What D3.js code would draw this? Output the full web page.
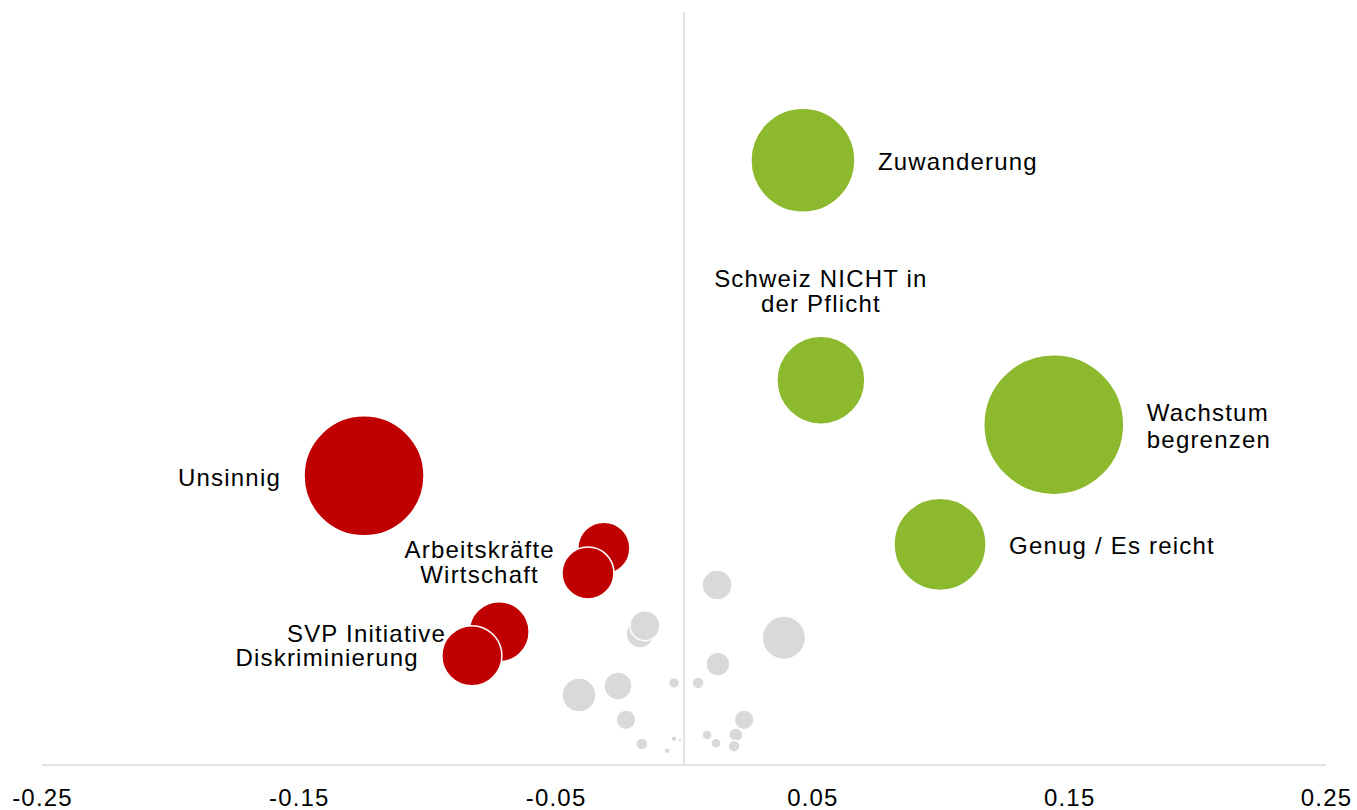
<!DOCTYPE html>
<html>
<head>
<meta charset="utf-8">
<script src="https://cdn.jsdelivr.net/npm/d3@7"></script>
<style>
  body { margin: 0; background: #fff; }
  svg { display: block; font-family: "Liberation Sans", Arial, sans-serif; }
</style>
</head>
<body>
<div id="chart"></div>
<script>
// labelled bubbles
const names  = ["Zuwanderung", "Schweiz NICHT in|der Pflicht", "Wachstum|begrenzen", "Genug / Es reicht",
                "Unsinnig", "Arbeitskräfte", "Wirtschaft", "SVP Initiative", "Diskriminierung"]
const xVals  = [0.0463, 0.0533, 0.1440, 0.0997, -0.1246, -0.0312, -0.0374, -0.0720, -0.0826]
const yVals  = [80.3, 51.1, 45.2, 29.3, 38.4, 28.8, 25.5, 17.7, 14.5]
const sizes  = [55.2, 39.5, 100, 43.2, 73.5, 13.8, 13.8, 18.4, 18.4]
const groups = ["pro", "pro", "pro", "pro", "contra", "contra", "contra", "contra", "contra"]
const sides  = ["right", "top", "right", "right", "left", "left", "left", "left", "left"]

// unlabelled grey bubbles
const greyX    = [0.0129, 0.0389, -0.0171, -0.0152, 0.0132, -0.0409, -0.0257, -0.0039, 0.0055, -0.0226,
                  0.0234, -0.0164, -0.0066, -0.0039, -0.0016, 0.0090, 0.0125, 0.0202, 0.0195]
const greyY    = [23.9, 16.9, 17.4, 18.5, 13.4, 9.3, 10.5, 10.9, 10.9, 6.0,
                  6.0, 2.8, 1.9, 3.5, 3.3, 4.0, 2.9, 4.0, 2.5]
const greySize = [4.6, 9.6, 4.0, 4.6, 2.9, 5.9, 4.0, 0.62, 0.73, 2.0,
                  2.0, 0.73, 0.18, 0.18, 0.08, 0.51, 0.51, 1.0, 0.73]

const xTicks = [-0.25, -0.15, -0.05, 0.05, 0.15, 0.25]

const width = 1357, height = 810
const colors = {pro: "#8cb92d", contra: "#c00000", none: "#d9d9d9"}

const x = d3.scaleLinear().domain([-0.25, 0.25]).range([42, 1326])
const y = d3.scaleLinear().domain([0, 100]).range([765, 12])
const r = d3.scaleSqrt().domain([0, 100]).range([0, 70])

const svg = d3.select("#chart").append("svg").attr("width", width).attr("height", height)

// zero line
svg.append("line")
   .attr("x1", x(0)).attr("x2", x(0))
   .attr("y1", y(100)).attr("y2", y(0))
   .attr("stroke", "#d9d9d9").attr("stroke-width", 1.5)

// x axis
svg.append("g")
   .attr("transform", `translate(0,${y(0)})`)
   .call(d3.axisBottom(x).tickValues(xTicks).tickSize(0).tickPadding(24).tickFormat(d => d.toFixed(2)))
   .call(g => g.select(".domain").remove())
   .call(g => g.selectAll("text")
      .attr("font-family", "Liberation Sans, Arial, sans-serif")
      .attr("font-size", 24).attr("letter-spacing", "1.2px").attr("fill", "#000"))

svg.append("line")
   .attr("x1", x(-0.25)).attr("x2", x(0.25))
   .attr("y1", y(0)).attr("y2", y(0))
   .attr("stroke", "#d9d9d9").attr("stroke-width", 1.5)

const grey = greyX.map((d, i) => ({x: d, y: greyY[i], size: greySize[i]}))
svg.append("g").selectAll("circle").data(grey).join("circle")
   .attr("cx", d => x(d.x)).attr("cy", d => y(d.y)).attr("r", d => r(d.size))
   .attr("fill", colors.none).attr("stroke", "#fff").attr("stroke-width", 1.5)

const bubbles = names.map((n, i) => ({name: n, x: xVals[i], y: yVals[i], size: sizes[i], group: groups[i], side: sides[i]}))

svg.append("g").selectAll("circle").data(bubbles).join("circle")
   .attr("cx", d => x(d.x)).attr("cy", d => y(d.y)).attr("r", d => r(d.size))
   .attr("fill", d => colors[d.group]).attr("stroke", "#fff").attr("stroke-width", 1.5)

const gap = 23, lineH = 27
const labels = svg.append("g").attr("font-size", 24).attr("letter-spacing", "1.2px").attr("fill", "#000")

bubbles.forEach(d => {
  const lines = d.name.split("|")
  const cx = x(d.x), cy = y(d.y), rr = r(d.size)
  let tx, anchor, firstY
  if (d.side === "right") {
    tx = cx + rr + gap; anchor = "start"
    firstY = cy - (lines.length - 1) * lineH / 2 + 10
  } else if (d.side === "left") {
    tx = cx - rr - gap; anchor = "end"
    firstY = cy - (lines.length - 1) * lineH / 2 + 10
  } else {
    tx = cx; anchor = "middle"
    firstY = cy - rr - 49 - (lines.length - 1) * 25 + 25
  }
  const t = labels.append("text").attr("text-anchor", anchor)
  lines.forEach((l, j) => {
    t.append("tspan").attr("x", tx).attr("y", firstY + j * (d.side === "top" ? 25 : lineH)).text(l)
  })
})
</script>
</body>
</html>
